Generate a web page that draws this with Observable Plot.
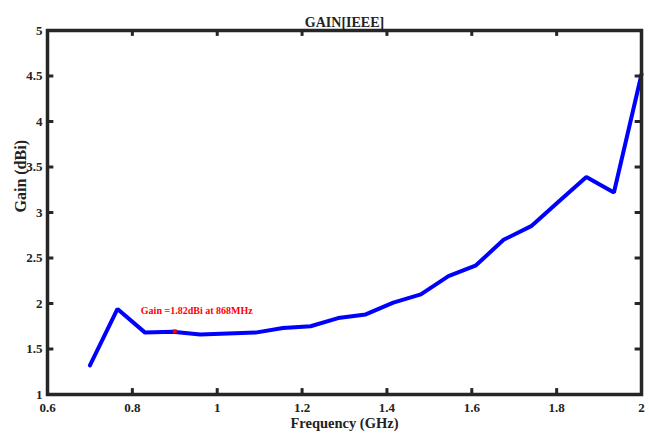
<!DOCTYPE html>
<html>
<head>
<meta charset="utf-8">
<script src="https://cdn.jsdelivr.net/npm/d3@7"></script>
<script src="https://cdn.jsdelivr.net/npm/@observablehq/plot@0.6"></script>
<style>
  html, body { margin: 0; padding: 0; background: #fff; }
</style>
</head>
<body>
<div id="chart"></div>
<script>
const freq = [0.70, 0.765, 0.83, 0.895, 0.96, 1.025, 1.09, 1.155, 1.22, 1.285, 1.35, 1.415, 1.48, 1.545, 1.61, 1.675, 1.74, 1.805, 1.87, 1.935, 2.0];
const gain = [1.32, 1.94, 1.68, 1.69, 1.66, 1.67, 1.68, 1.73, 1.75, 1.84, 1.88, 2.01, 2.10, 2.30, 2.42, 2.70, 2.85, 3.12, 3.39, 3.22, 4.52];
const xTicks = [0.6, 0.8, 1.0, 1.2, 1.4, 1.6, 1.8, 2.0];
const yTicks = [1, 1.5, 2, 2.5, 3, 3.5, 4, 4.5, 5];
const markerFreq = [0.9];
const markerGain = [1.695];
const annotation = ["Gain =1.82dBi at 868MHz"];
const annotationFreq = [0.82];
const annotationGain = [1.92];
const title = "GAIN[IEEE]";
const xLabel = "Frequency (GHz)";
const yLabel = "Gain (dBi)";

const data = freq.map((f, i) => ({f, g: gain[i]}));
const marker = markerFreq.map((f, i) => ({f, g: markerGain[i]}));
const notes = annotation.map((t, i) => ({t, f: annotationFreq[i], g: annotationGain[i]}));

const frameColor = "#262626";
const fmt = d => String(+d.toFixed(1));

const chart = Plot.plot({
  width: 649,
  height: 434,
  marginLeft: 47,
  marginRight: 8,
  marginTop: 30,
  marginBottom: 40,
  style: {fontFamily: "'Liberation Serif', 'Times New Roman', serif", fontWeight: "bold", fontSize: "13px", color: "#222", background: "#fff"},
  x: {domain: [0.6, 2.0]},
  y: {domain: [1, 5]},
  marks: [
    Plot.line(data, {x: "f", y: "g", stroke: "#0000ff", strokeWidth: 4, strokeLinejoin: "miter"}),
    Plot.dot(marker, {x: "f", y: "g", symbol: "square", r: 2.2, fill: "#ff0000"}),
    Plot.text(notes, {x: "f", y: "g", text: "t", fill: "#ff0000", fontSize: 10, textAnchor: "start", fontWeight: "bold"}),
    Plot.axisX({ticks: xTicks, tickSize: 0, tickPadding: 8, fontSize: 13, label: null, tickFormat: fmt}),
    Plot.axisY({ticks: yTicks, tickSize: 0, tickPadding: 5, fontSize: 13, label: null, tickFormat: fmt}),
    Plot.ruleX(xTicks, {x: d => d, y1: () => 1, y2: () => 1.065, stroke: frameColor, strokeWidth: 3}),
    Plot.ruleX(xTicks, {x: d => d, y1: () => 5, y2: () => 4.935, stroke: frameColor, strokeWidth: 3}),
    Plot.ruleY(yTicks, {y: d => d, x1: () => 0.6, x2: () => 0.615, stroke: frameColor, strokeWidth: 3}),
    Plot.ruleY(yTicks, {y: d => d, x1: () => 2.0, x2: () => 1.985, stroke: frameColor, strokeWidth: 3}),
    Plot.frame({stroke: frameColor, strokeWidth: 3.5}),
    Plot.text([title], {frameAnchor: "top", dy: -13, fontSize: 14, fontWeight: "bold", fill: "#222"}),
    Plot.text([xLabel], {frameAnchor: "bottom", dy: 33, fontSize: 14.5, fontWeight: "bold", fill: "#222"}),
    Plot.text([yLabel], {frameAnchor: "left", dx: -27, rotate: -90, fontSize: 16, fontWeight: "bold", fill: "#222"})
  ]
});
document.getElementById("chart").appendChild(chart);
</script>
</body>
</html>
